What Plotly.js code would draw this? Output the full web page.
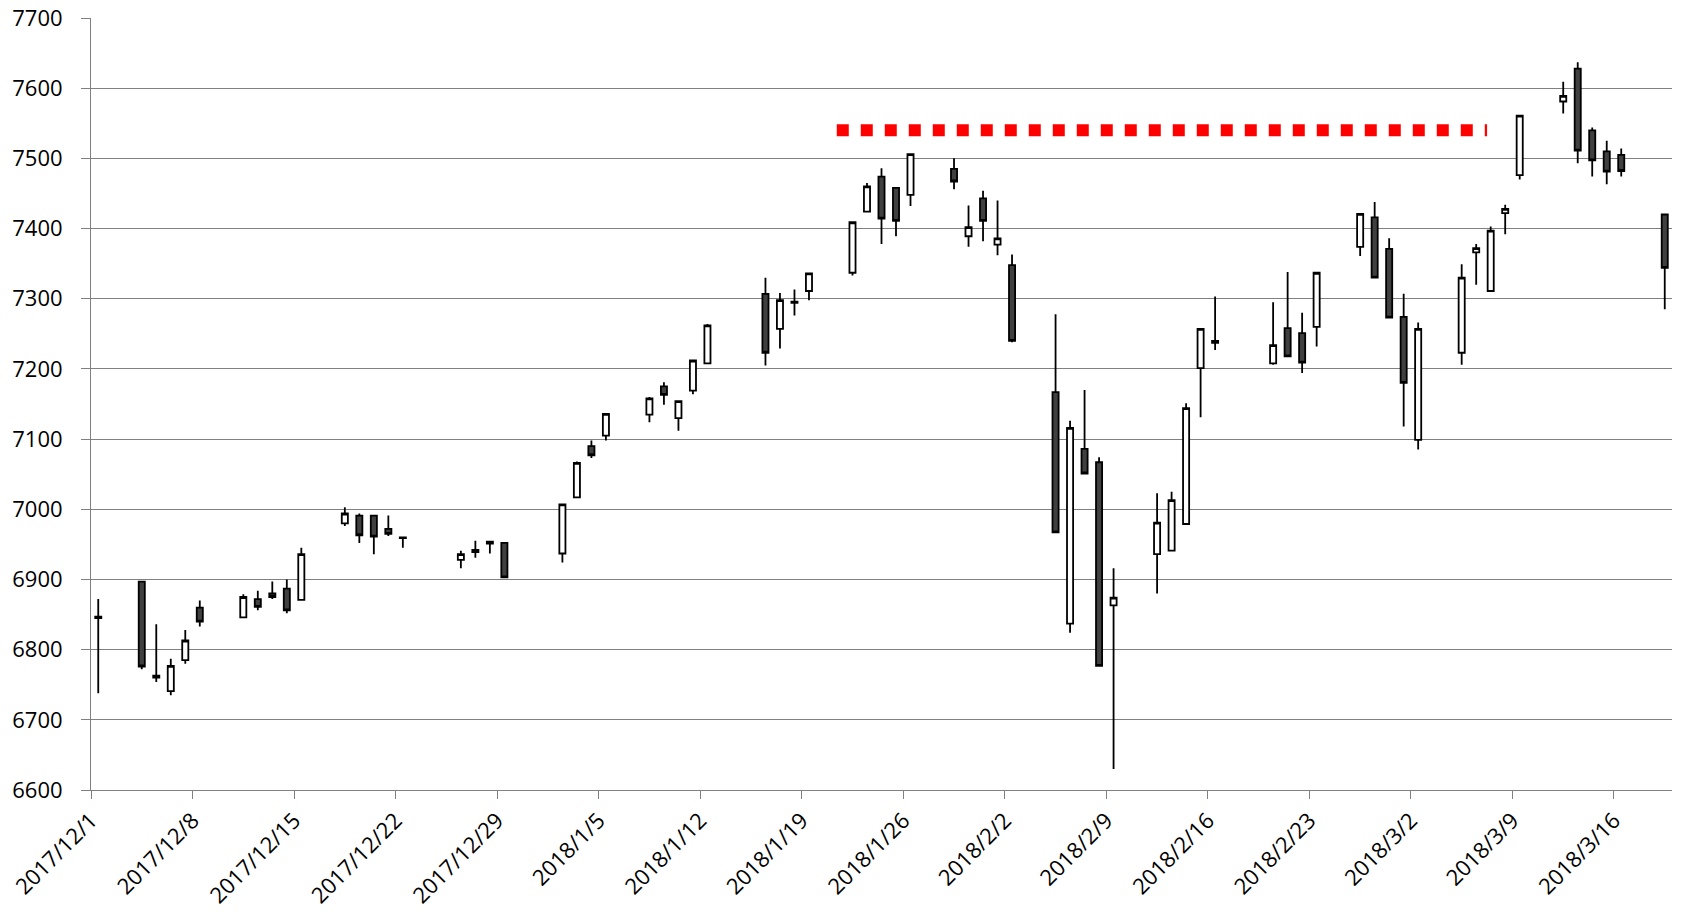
<!DOCTYPE html>
<html>
<head>
<meta charset="utf-8">
<script src="https://cdn.plot.ly/plotly-3.0.1.min.js"></script>
<style>
  html, body { margin: 0; padding: 0; background: #fff; }
  #chart { width: 1681px; height: 922px; }
</style>
</head>
<body>
<div id="chart"></div>
<script>
// ---- Data ----
const dates = [
  '2017-12-01','2017-12-04','2017-12-05','2017-12-06','2017-12-07','2017-12-08',
  '2017-12-11','2017-12-12','2017-12-13','2017-12-14','2017-12-15',
  '2017-12-18','2017-12-19','2017-12-20','2017-12-21','2017-12-22',
  '2017-12-26','2017-12-27','2017-12-28','2017-12-29',
  '2018-01-02','2018-01-03','2018-01-04','2018-01-05',
  '2018-01-08','2018-01-09','2018-01-10','2018-01-11','2018-01-12',
  '2018-01-16','2018-01-17','2018-01-18','2018-01-19',
  '2018-01-22','2018-01-23','2018-01-24','2018-01-25','2018-01-26',
  '2018-01-29','2018-01-30','2018-01-31','2018-02-01','2018-02-02',
  '2018-02-05','2018-02-06','2018-02-07','2018-02-08','2018-02-09',
  '2018-02-12','2018-02-13','2018-02-14','2018-02-15','2018-02-16',
  '2018-02-20','2018-02-21','2018-02-22','2018-02-23',
  '2018-02-26','2018-02-27','2018-02-28','2018-03-01','2018-03-02',
  '2018-03-05','2018-03-06','2018-03-07','2018-03-08','2018-03-09',
  '2018-03-12','2018-03-13','2018-03-14','2018-03-15','2018-03-16',
  '2018-03-19'
];
const openVals = [
  6845,6897,6760,6741,6785,6860,
  6846,6872,6880,6887,6871,
  6980,6991,6991,6972,6960,
  6928,6942,6954,6952,
  6937,7017,7090,7105,
  7135,7175,7130,7169,7208,
  7307,7257,7296,7311,
  7337,7424,7474,7458,7448,
  7485,7389,7443,7377,7348,
  7167,6837,7086,7067,6863,
  6936,6941,6979,7201,7240,
  7208,7258,7251,7260,
  7374,7416,7371,7274,7099,
  7223,7366,7311,7422,7476,
  7581,7628,7540,7510,7505,
  7420
];
const highVals = [
  6872,6898,6836,6787,6828,6870,
  6879,6884,6897,6900,6945,
  7003,6994,6992,6991,6961,
  6941,6955,6955,6953,
  7008,7068,7098,7137,
  7160,7181,7154,7212,7264,
  7330,7308,7313,7336,
  7409,7465,7486,7459,7506,
  7500,7433,7454,7440,7363,
  7278,7126,7170,7074,6916,
  7023,7025,7151,7257,7303,
  7295,7338,7280,7337,
  7422,7438,7386,7307,7266,
  7349,7378,7403,7434,7561,
  7609,7637,7544,7525,7514,
  7420
];
const lowVals = [
  6738,6772,6754,6735,6780,6833,
  6845,6856,6872,6852,6870,
  6976,6952,6936,6962,6945,
  6916,6931,6937,6902,
  6924,7016,7073,7098,
  7124,7149,7112,7164,7207,
  7205,7229,7276,7298,
  7333,7424,7378,7389,7432,
  7456,7374,7382,7362,7238,
  6966,6824,7051,6776,6630,
  6880,6940,6978,7131,7227,
  7206,7217,7194,7232,
  7361,7330,7273,7118,7085,
  7206,7320,7311,7392,7470,
  7564,7493,7474,7463,7474,
  7285
];
const closeVals = [
  6847,6776,6763,6777,6813,6840,
  6875,6861,6875,6856,6936,
  6994,6963,6961,6965,6959,
  6936,6939,6951,6903,
  7007,7066,7077,7136,
  7158,7163,7154,7212,7262,
  7223,7298,7294,7336,
  7409,7460,7414,7411,7506,
  7467,7402,7411,7386,7240,
  6967,7116,7051,6777,6874,
  6981,7013,7144,7257,7237,
  7234,7218,7209,7337,
  7421,7330,7273,7180,7257,
  7330,7372,7397,7428,7561,
  7589,7511,7497,7481,7482,
  7344
];

// Resistance line (red dotted)
const resistanceX = ['2018-01-21 10:00', '2018-03-07 06:00'];
const resistanceY = [7540, 7540];

// Axis ticks
const tickDates = [
  '2017-12-01','2017-12-08','2017-12-15','2017-12-22','2017-12-29',
  '2018-01-05','2018-01-12','2018-01-19','2018-01-26',
  '2018-02-02','2018-02-09','2018-02-16','2018-02-23',
  '2018-03-02','2018-03-09','2018-03-16'
];
const tickLabels = [
  '2017/12/1','2017/12/8','2017/12/15','2017/12/22','2017/12/29',
  '2018/1/5','2018/1/12','2018/1/19','2018/1/26',
  '2018/2/2','2018/2/9','2018/2/16','2018/2/23',
  '2018/3/2','2018/3/9','2018/3/16'
];
const yRange = [6600, 7700];
const xRange = ['2017-12-01', '2018-03-20'];

// Each trading day occupies a one-day slot; candles sit in the middle of the slot
const candleX = dates.map(d => d + ' 12:00');

const candle = {
  type: 'candlestick',
  x: candleX,
  open: openVals,
  high: highVals,
  low: lowVals,
  close: closeVals,
  whiskerwidth: 0,
  increasing: { line: { color: '#000000', width: 1.8 }, fillcolor: '#ffffff' },
  decreasing: { line: { color: '#000000', width: 1.8 }, fillcolor: '#404040' },
  showlegend: false,
  hoverinfo: 'skip'
};

const resistance = {
  type: 'scatter',
  mode: 'lines',
  x: resistanceX,
  y: resistanceY,
  line: { color: '#ff0000', width: 12, dash: 'dot' },
  showlegend: false,
  hoverinfo: 'skip'
};

const axisGray = '#808080';
const layout = {
  width: 1681,
  height: 922,
  margin: { l: 91, r: 9, t: 18, b: 132 },
  paper_bgcolor: '#ffffff',
  plot_bgcolor: '#ffffff',
  font: { family: '"Open Sans", "Noto Sans", sans-serif', size: 22, color: '#000000' },
  boxgap: 0.4,
  boxgroupgap: 0.3,
  showlegend: false,
  xaxis: {
    type: 'date',
    range: xRange,
    tickmode: 'array',
    tickvals: tickDates,
    ticktext: tickLabels,
    tickangle: -45,
    showgrid: false,
    zeroline: false,
    showline: true,
    linecolor: axisGray,
    linewidth: 1,
    ticks: 'outside',
    ticklen: 8,
    tickwidth: 1,
    tickcolor: axisGray,
    rangeslider: { visible: false },
    fixedrange: true
  },
  yaxis: {
    range: yRange,
    dtick: 100,
    tick0: 6600,
    showgrid: true,
    gridcolor: axisGray,
    gridwidth: 1,
    zeroline: false,
    showline: true,
    linecolor: axisGray,
    linewidth: 1,
    ticks: 'outside',
    ticklen: 9,
    tickwidth: 1,
    tickcolor: axisGray,
    ticklabelstandoff: 14,
    fixedrange: true
  }
};

Plotly.newPlot('chart', [candle, resistance], layout, { displayModeBar: false, staticPlot: true });
</script>
</body>
</html>
